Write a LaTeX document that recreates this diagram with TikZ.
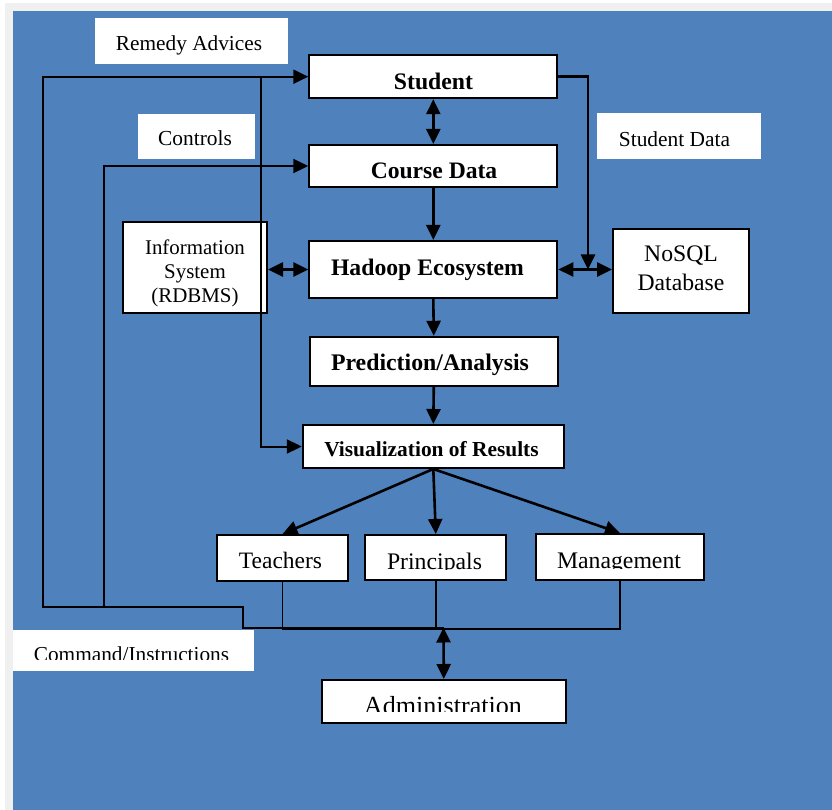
\documentclass[tikz,border=0pt]{standalone}
\usepackage{fontspec}
\setmainfont{Liberation Serif}
\usetikzlibrary{arrows.meta}
\definecolor{bgblue}{RGB}{79,129,189}
\definecolor{edgegray}{RGB}{240,240,240}
\begin{document}
\begin{tikzpicture}[x=1pt,y=-1pt,
  box/.style={draw=black, line width=2pt, fill=white, inner sep=0pt},
  lbox/.style={fill=white, inner sep=0pt},
  txt/.style={inner sep=0pt, anchor=base},
  mtxt/.style={inner sep=0pt, anchor=north, align=center},
  tip/.style={-{Triangle[length=15pt,width=14pt]}},
  flow/.style={line width=2.6pt, tip},
  both/.style={line width=2.6pt, {Triangle[length=15pt,width=14pt]}-{Triangle[length=15pt,width=14pt]}},
  loopl/.style={line width=2pt},
  thinl/.style={line width=1.6pt}]
\useasboundingbox (0,0) rectangle (832,810);
\fill[white] (0,0) rectangle (832,810);
\fill[edgegray] (5,3) rectangle (832,810);
\fill[bgblue] (13,11) rectangle (832,810);

% label boxes
\node[lbox, minimum width=193pt, minimum height=46pt] (remedy) at (191.5,41) {};
\node[lbox, minimum width=117pt, minimum height=45pt] (controls) at (196,136.5) {};
\node[lbox, minimum width=164pt, minimum height=46pt] (studentdata) at (679,136) {};
\node[lbox, minimum width=241pt, minimum height=41pt] (command) at (133.5,650.5) {};

% boxes
\node[box, minimum width=248pt, minimum height=43pt] (student) at (433.3,76.7) {};
\node[box, minimum width=248pt, minimum height=42pt] (course) at (433.3,166) {};
\node[box, minimum width=248pt, minimum height=57pt] (hadoop) at (433.3,269.5) {};
\node[box, minimum width=248pt, minimum height=49pt] (pred) at (433.8,361.3) {};
\node[box, minimum width=261pt, minimum height=43pt] (vis) at (433.3,446.5) {};
\node[box, minimum width=144pt, minimum height=91pt] (info) at (195,267.5) {};
\node[box, minimum width=136pt, minimum height=84pt] (nosql) at (681,271) {};
\node[box, minimum width=131pt, minimum height=46pt] (teachers) at (282.5,558) {};
\node[box, minimum width=141pt, minimum height=45pt] (principals) at (435.8,557.5) {};
\node[box, minimum width=168pt, minimum height=46pt] (management) at (620,557) {};
\node[box, minimum width=244pt, minimum height=43pt] (admin) at (443.8,701.5) {};

% junctions
\coordinate (jadm) at (443.5,627.5);
\coordinate (jbot) at (443.5,629);
\coordinate (sdj) at (588,269.5);

% main flow
\draw[both] (student.south) -- (course.north);
\draw[flow] (course.south) -- (hadoop.north);
\draw[flow] (hadoop.south) -- (pred.north);
\draw[flow] (pred.south) -- (vis.north);
\draw[flow] (vis.south) -- (teachers.north);
\draw[flow] (vis.south) -- (principals.north);
\draw[flow] (vis.south) -- (management.north);
\draw[both] (hadoop.west) -- (hadoop.west -| info.east);
\draw[both] (hadoop.east) -- (hadoop.east -| nosql.west);
\draw[line width=2.6pt, tip] (student.east) -| (sdj);

% feedback loops
\draw[loopl, tip] (jadm) -- (243,627.5) -- (243,607) -- (43,607) |- (student.west);
\draw[loopl, tip] (104,607) |- (course.west);
\draw[loopl, tip] (261,76.7) |- (vis.west);
\draw[thinl] (teachers.south) |- (jbot);
\draw[thinl] (principals.south) -- (principals.south |- jadm);
\draw[thinl] (management.south) |- (jbot);
\draw[both] (jadm) -- (admin.north);

% texts
\node[txt, font=\fontsize{21.3}{25}\selectfont] (remedyT) at (189,50.7) {Remedy Advices};
\node[txt, font=\fontsize{21.4}{25}\selectfont] (controlsT) at (195,146) {Controls};
\node[txt, font=\fontsize{21.4}{25}\selectfont] (studentdataT) at (674.5,146.7) {Student Data};
\begin{scope}
  \clip (0,0) rectangle (832,659.3);
  \node[txt, font=\fontsize{21.3}{25}\selectfont] (commandT) at (131.5,661.5) {Command/Instructions};
\end{scope}
\node[txt, font=\fontsize{23.7}{28}\selectfont\bfseries] (studentT) at (433.5,89.3) {Student};
\node[txt, font=\fontsize{23.6}{28}\selectfont\bfseries] (courseT) at (434,178.3) {Course Data};
\node[txt, font=\fontsize{23.7}{28}\selectfont\bfseries] (hadoopT) at (427.5,275.5) {Hadoop Ecosystem};
\node[txt, font=\fontsize{23.8}{28}\selectfont\bfseries] (predT) at (430,370.7) {Prediction/Analysis};
\node[txt, font=\fontsize{21.4}{25}\selectfont\bfseries] (visT) at (431.5,456) {Visualization of Results};
\node[mtxt, font=\fontsize{20.9}{24.2}\selectfont] (infoT) at (195,239.3) {Information\\System\\(RDBMS)};
\node[mtxt, font=\fontsize{23.7}{29.3}\selectfont] (nosqlT) at (681,245.5) {NoSQL\\Database};
\node[txt, font=\fontsize{23.5}{28}\selectfont] (teachersT) at (280.5,568.3) {Teachers};
\begin{scope}
  \clip (0,0) rectangle (832,569);
  \node[txt, font=\fontsize{23.75}{28}\selectfont] (principalsT) at (434.5,569) {Principals};
\end{scope}
\begin{scope}
  \clip (0,0) rectangle (832,568.5);
  \node[txt, font=\fontsize{23.75}{28}\selectfont] (managementT) at (619,568.5) {Management};
\end{scope}
\begin{scope}
  \clip (0,0) rectangle (832,711.7);
  \node[txt, font=\fontsize{26.1}{30}\selectfont] (adminT) at (443,714) {Administration};
\end{scope}
\end{tikzpicture}
\end{document}
